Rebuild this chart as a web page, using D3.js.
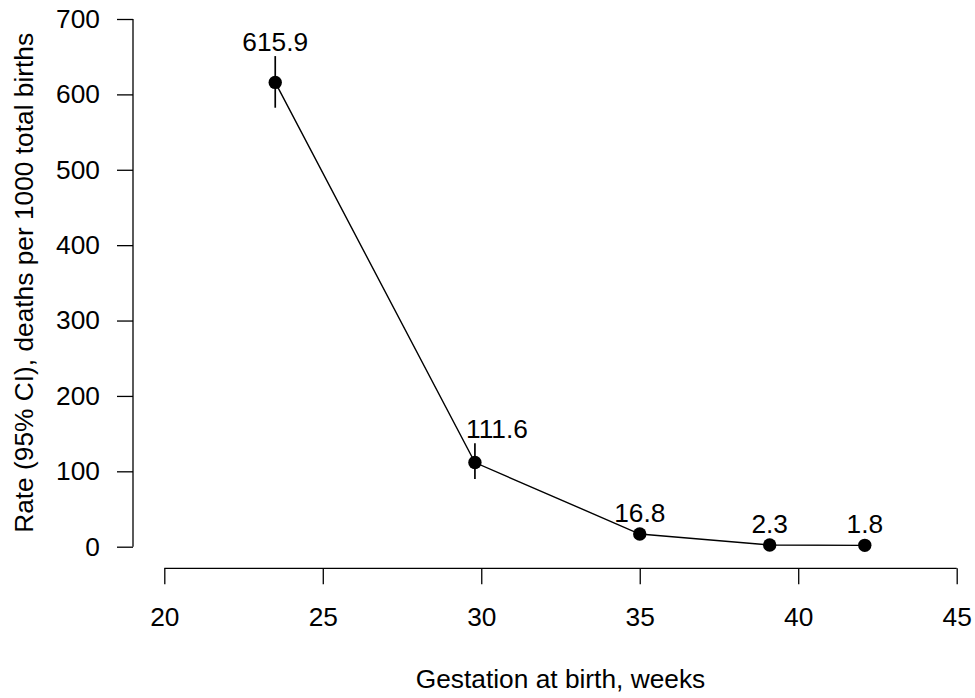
<!DOCTYPE html>
<html><head><meta charset="utf-8">
<script src="https://cdn.jsdelivr.net/npm/d3@7"></script>
<style>html,body{margin:0;padding:0;background:#fff}svg{display:block}text{font-family:"Liberation Sans",Arial,sans-serif;fill:#000}</style>
</head><body>
<svg id="c" width="975" height="698"></svg>
<script>
const weeks = [23.5, 29.8, 35.0, 39.1, 42.1];
const rates = [615.9, 111.6, 16.8, 2.3, 1.8];
const ciLower = [582.3, 89.9, 13.5, 1.5, 1.2];
const ciUpper = [650.8, 137.3, 20.6, 3.4, 2.6];
const labels = ["615.9", "111.6", "16.8", "2.3", "1.8"];
const xTicks = [20, 25, 30, 35, 40, 45];
const yTicks = [0, 100, 200, 300, 400, 500, 600, 700];
const xTitle = "Gestation at birth, weeks";
const yTitle = "Rate (95% CI), deaths per 1000 total births";

const svg = d3.select("#c");
const x = d3.scaleLinear().domain([20, 45]).range([164.3, 956.7]);
const y = d3.scaleLinear().domain([0, 700]).range([546.7, 19]);
const fs = 26.3;

// Y axis
const yAxis = d3.axisLeft(y).tickValues(yTicks).tickSize(16).tickPadding(17).tickSizeOuter(0);
const gy = svg.append("g").attr("transform", "translate(133,0)").call(yAxis);
gy.select(".domain").attr("stroke", "#000").attr("stroke-width", 1.3).attr("d", `M0,${y(0)}V${y(700)}`);
gy.selectAll(".tick line").attr("stroke", "#000").attr("stroke-width", 1.3);
gy.selectAll(".tick text").style("font-size", fs + "px").attr("font-family", null);

// X axis
const xAxis = d3.axisBottom(x).tickValues(xTicks).tickSize(16).tickPadding(23).tickSizeOuter(0);
const gx = svg.append("g").attr("transform", "translate(0,568.3)").call(xAxis);
gx.select(".domain").attr("stroke", "#000").attr("stroke-width", 1.3).attr("d", `M${x(20)},0H${x(45)}`);
gx.selectAll(".tick line").attr("stroke", "#000").attr("stroke-width", 1.3);
gx.selectAll(".tick text").style("font-size", fs + "px").attr("font-family", null);
svg.selectAll(".tick text").attr("fill", "#000");

// Titles
svg.append("text").attr("x", (x(20) + x(45)) / 2).attr("y", 688).attr("text-anchor", "middle")
  .style("font-size", fs + "px").text(xTitle);
svg.append("text").attr("transform", `translate(33,${(y(0) + y(700)) / 2}) rotate(-90)`)
  .attr("text-anchor", "middle").style("font-size", fs + "px").text(yTitle);

const data = weeks.map((w, i) => ({i, w, r: rates[i], lo: ciLower[i], hi: ciUpper[i], lab: labels[i]}));

// CI bars
svg.append("g").selectAll("line").data(data).join("line")
  .attr("x1", d => x(d.w)).attr("x2", d => x(d.w))
  .attr("y1", d => y(d.lo)).attr("y2", d => y(d.hi))
  .attr("stroke", "#000").attr("stroke-width", 1.7);

// Line
svg.append("path").datum(data)
  .attr("d", d3.line().x(d => x(d.w)).y(d => y(d.r)))
  .attr("fill", "none").attr("stroke", "#000").attr("stroke-width", 1.4);

// Points
svg.append("g").selectAll("circle").data(data).join("circle")
  .attr("cx", d => x(d.w)).attr("cy", d => y(d.r)).attr("r", 6.7).attr("fill", "#000");

// Value labels (the second label is nudged right to clear the line)
svg.append("g").selectAll("text").data(data).join("text")
  .attr("x", d => x(d.w) + (d.i === 1 ? 22 : 0))
  .attr("y", d => Math.min(y(d.hi), y(d.r) - 7) - 5)
  .attr("text-anchor", "middle").style("font-size", fs + "px").text(d => d.lab);
</script>
</body></html>
